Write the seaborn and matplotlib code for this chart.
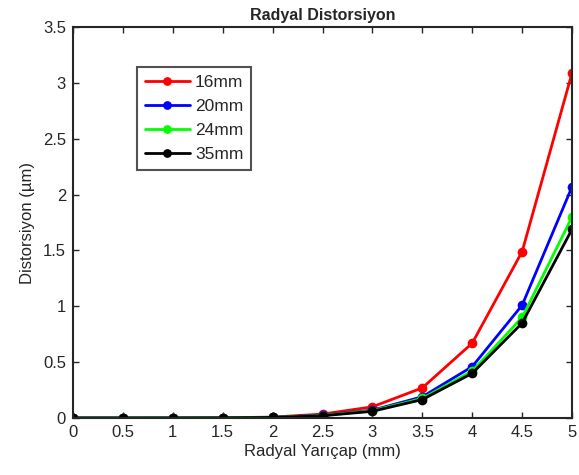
import numpy as np
import pandas as pd
import matplotlib
matplotlib.use("Agg")
import matplotlib.pyplot as plt
import seaborn as sns

r = [0, 0.5, 1, 1.5, 2, 2.5, 3, 3.5, 4, 4.5, 5]
d16 = [0.0, 0.0, 0.0005, 0.002, 0.008, 0.035, 0.10, 0.27, 0.67, 1.49, 3.09]
d20 = [0.0, 0.0, 0.0003, 0.0015, 0.006, 0.025, 0.07, 0.19, 0.46, 1.01, 2.07]
d24 = [0.0, 0.0, 0.0003, 0.0012, 0.005, 0.022, 0.065, 0.175, 0.42, 0.90, 1.80]
d35 = [0.0, 0.0, 0.0002, 0.001, 0.005, 0.02, 0.06, 0.165, 0.40, 0.85, 1.69]
labels = ["16mm", "20mm", "24mm", "35mm"]
colors = ["#ff0000", "#0000ff", "#00ff00", "#000000"]

frames = []
for lab, vals in zip(labels, [d16, d20, d24, d35]):
    frames.append(pd.DataFrame({"r": r, "d": vals, "lens": lab}))
df = pd.concat(frames, ignore_index=True)

sns.set_style("white")
plt.rcParams["font.family"] = ["Liberation Sans", "DejaVu Sans"]

fig = plt.figure(figsize=(5.79, 4.75), dpi=100)
ax = fig.add_axes([0.126, 0.12, 0.862, 0.823])
sns.lineplot(data=df, x="r", y="d", hue="lens", palette=colors, marker="o",
             markersize=7, markeredgewidth=0, linewidth=2, ax=ax)

ax.set_xlim(0, 5)
ax.set_ylim(0, 3.5)
ax.set_xticks(np.arange(0, 5.01, 0.5))
ax.set_xticklabels(["0", "0.5", "1", "1.5", "2", "2.5", "3", "3.5", "4", "4.5", "5"])
ax.set_yticks(np.arange(0, 3.51, 0.5))
ax.set_yticklabels(["0", "0.5", "1", "1.5", "2", "2.5", "3", "3.5"])
ax.tick_params(direction="in", length=4, width=1, labelsize=12, colors="#262626",
               top=True, right=True, bottom=True, left=True, pad=5)
for s in ax.spines.values():
    s.set_color("#262626")
    s.set_linewidth(1.5)
ax.set_xlabel("Radyal Yarıçap (mm)", fontsize=12, color="#262626", labelpad=3)
ax.set_ylabel("Distorsiyon (µm)", fontsize=12, color="#262626", labelpad=6)
ax.set_title("Radyal Distorsiyon", fontsize=11.5, fontweight="bold", pad=5)

leg = ax.legend(loc="upper left", bbox_to_anchor=(0.128, 0.897), fontsize=12.5,
                frameon=True, fancybox=False, handlelength=2.6, handletextpad=0.3,
                borderpad=0.45, labelspacing=0.5, markerscale=0.9, borderaxespad=0)
leg.get_frame().set_edgecolor("#262626")
leg.get_frame().set_linewidth(1.5)
for h in leg.get_lines():
    h.set_linewidth(2)

fig.savefig("out.png", dpi=100)
